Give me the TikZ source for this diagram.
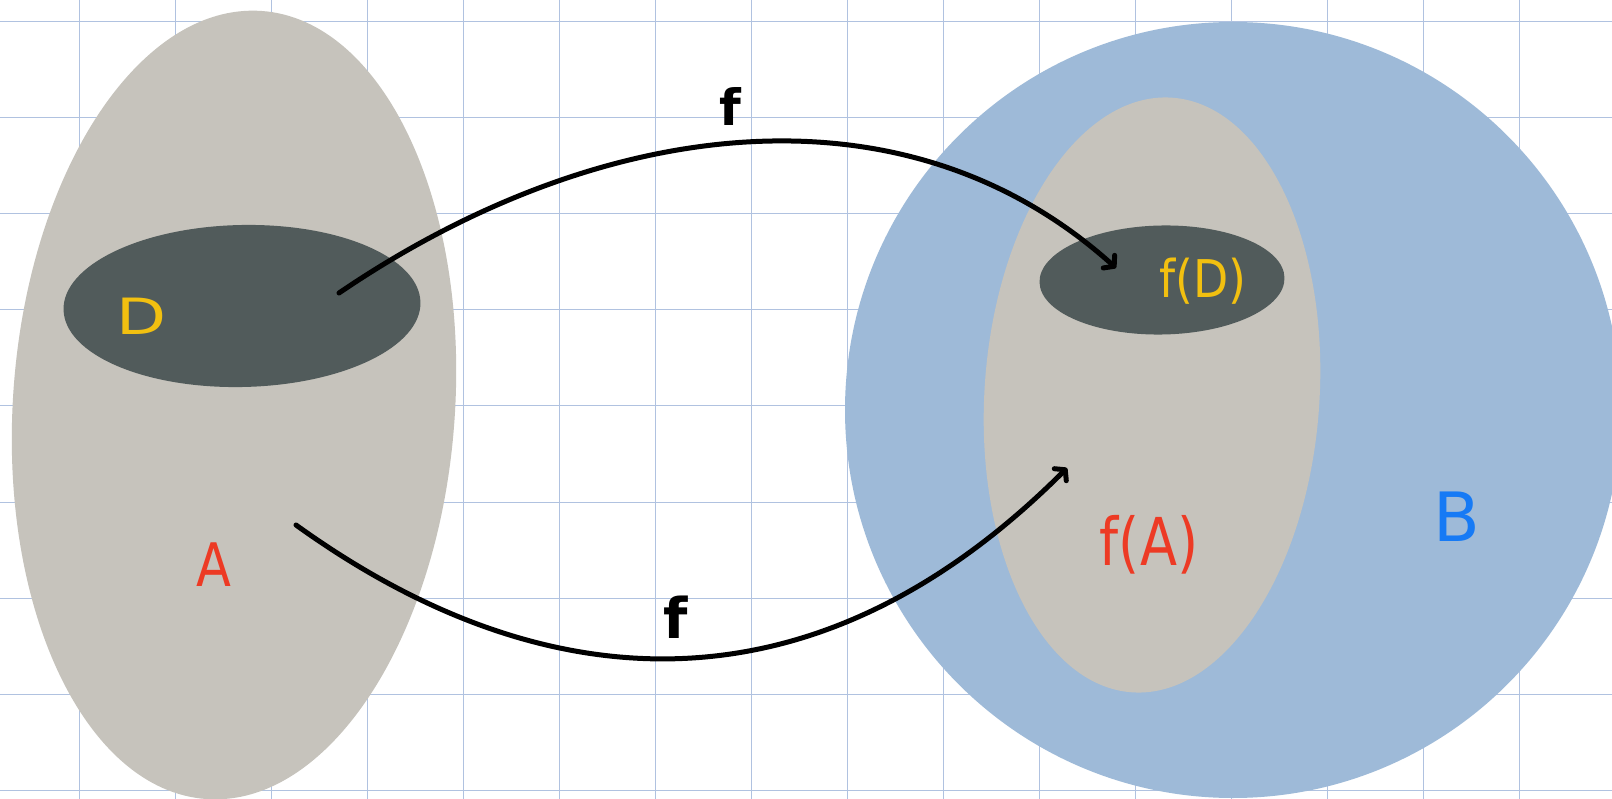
\documentclass[tikz,border=0pt]{standalone}
\usepackage{fontspec}
\setmainfont{DejaVu Sans}
\usetikzlibrary{shapes.geometric,arrows.meta}
\definecolor{gridc}{RGB}{176,194,224}
\definecolor{graysh}{RGB}{198,195,188}
\definecolor{darksh}{RGB}{81,91,91}
\definecolor{bluesh}{RGB}{158,186,216}
\definecolor{redt}{RGB}{237,58,36}
\definecolor{yellowt}{RGB}{242,192,16}
\definecolor{bluet}{RGB}{22,122,245}
\tikzset{
  blob/.style={ellipse, inner sep=0pt, outer sep=0pt, draw=none},
  gridline/.style={draw=gridc, line width=1pt},
  maparrow/.style={line width=5pt, line cap=round, draw=black,
    -{Straight Barb[length=7pt,width=17pt,line cap=round,line join=round]}},
  lbl/.style={inner sep=0pt, outer sep=0pt}
}
\begin{document}
\begin{tikzpicture}[x=1pt,y=-1pt]
\useasboundingbox (0,0) rectangle (1612,799);
\fill[white] (0,0) rectangle (1612,799);
% grid
\foreach \gx in {79,175,...,1519} \draw[gridline] (\gx,0) -- (\gx,799);
\foreach \gy in {22,118,...,790} \draw[gridline] (0,\gy) -- (1612,\gy);
% sets
\node[blob, circle, fill=bluesh, minimum size=776pt] (B) at (1233,410) {};
\node[blob, fill=graysh, minimum width=442pt, minimum height=790pt, rotate=-4] (A) at (234,405) {};
\node[blob, fill=darksh, minimum width=357pt, minimum height=162pt, rotate=1.2] (D) at (242,306) {};
\node[blob, fill=graysh, minimum width=335pt, minimum height=596pt, rotate=-3.8] (fA) at (1152,395) {};
\node[blob, fill=darksh, minimum width=245pt, minimum height=109pt, rotate=1] (fD) at (1162,280) {};
% arrows
\coordinate (s1) at (339,293);
\coordinate (e1) at (1116,268);
\coordinate (s2) at (296,525);
\coordinate (e2) at (1067,468);
\draw[maparrow] (s1) .. controls (599,116) and (904,77) .. (e1);
\draw[maparrow] (s2) .. controls (546,705) and (816,719) .. (e2);
% labels
\node[lbl, text=yellowt, font=\fontsize{50}{60}\selectfont, xscale=1.3] (Dlabel) at (142,316) {D};
\node[lbl, text=redt, font=\fontsize{60}{72}\selectfont, xscale=0.85] (Alabel) at (214,565) {A};
\node[lbl, text=bluet, font=\fontsize{68}{80}\selectfont] (Blabel) at (1457,517) {B};
\node[lbl, text=black, font=\fontsize{50}{62}\selectfont\bfseries] (f1) at (730,107) {f};
\node[lbl, text=black, font=\fontsize{56}{70}\selectfont\bfseries] (f2) at (676,617) {f};
\node[lbl, text=yellowt, font=\fontsize{52}{62}\selectfont, xscale=0.88] (fDlabel) at (1203,281) {f(D)};
\node[lbl, text=redt, font=\fontsize{66}{78}\selectfont, xscale=0.82] (fAlabel) at (1149,545) {f(A)};
\end{tikzpicture}
\end{document}
